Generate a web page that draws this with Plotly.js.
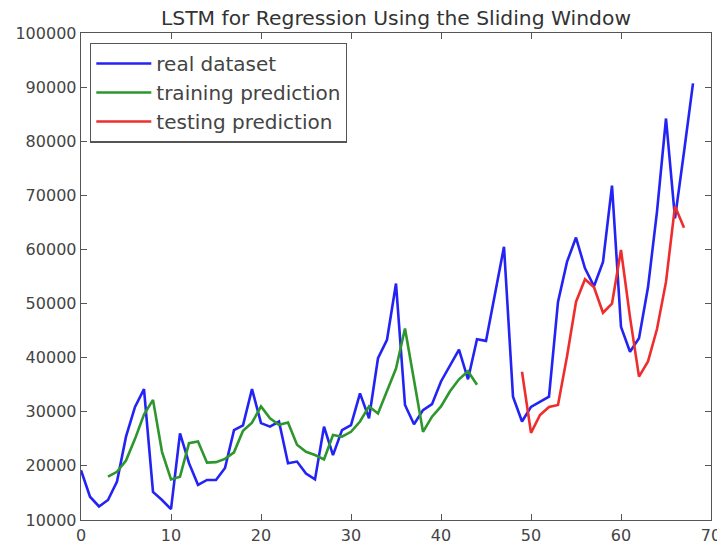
<!DOCTYPE html>
<html>
<head>
<meta charset="utf-8">
<script src="https://cdn.plot.ly/plotly-3.0.1.min.js"></script>
<style>html,body{margin:0;padding:0;background:#fff;}#chart{width:717px;height:544px;}</style>
</head>
<body>
<div id="chart"></div>
<script>
// Data
const realStart = 0;
const realValues = [19200,14300,12500,13700,17100,25400,30900,34200,15200,13700,
  12000,26000,20500,16500,17400,17400,19600,26600,27500,34200,
  27900,27250,28200,20500,20800,18600,17500,27250,22000,26600,
  27550,33400,28800,39900,43300,53700,31250,27700,30300,31400,
  35600,38600,41500,36000,43400,43100,51900,60500,32800,28200,
  30900,31900,32800,50300,57700,62200,56500,53200,57700,71800,
  45700,41100,43600,53000,67000,84200,65750,78000,90700];

const trainStart = 3;
const trainValues = [18000,18900,21000,25000,29500,32200,22600,17500,18000,24200,
  24500,20600,20700,21300,22500,26500,28000,31000,28800,27600,
  28000,23900,22600,22000,21200,25700,25400,26300,28200,31000,
  29700,33700,38000,45400,35900,26300,29100,31000,33800,36000,
  37500,35000];

const testStart = 49;
const testValues = [37400,26100,29400,30900,31250,40200,50300,54500,53000,48300,
  50000,59900,47500,36500,39300,45300,54000,68000,64000];

const seriesNames = ["real dataset","training prediction","testing prediction"];
const xTicks = [0,10,20,30,40,50,60,70];
const yTicks = [10000,20000,30000,40000,50000,60000,70000,80000,90000,100000];
const titleText = "LSTM for Regression Using the Sliding Window";

function idx(start, arr){ return arr.map((_, i) => start + i); }

const traces = [
  {x: idx(realStart, realValues), y: realValues, name: seriesNames[0], mode: "lines",
   line: {color: "rgb(35,35,245)", width: 2.6}, legendgroup: "a"},
  {x: idx(trainStart, trainValues), y: trainValues, name: seriesNames[1], mode: "lines",
   line: {color: "rgb(45,150,45)", width: 2.6}, legendgroup: "b"},
  {x: idx(testStart, testValues), y: testValues, name: seriesNames[2], mode: "lines",
   line: {color: "rgb(240,45,45)", width: 2.6}, legendgroup: "c"}
];

const axisCommon = {
  showline: true, linecolor: "#555", linewidth: 1.3, mirror: "ticks",
  ticks: "inside", ticklen: 6, tickcolor: "#555", tickwidth: 1,
  showgrid: false, zeroline: false, ticklabeloverflow: "allow",
  tickfont: {family: "DejaVu Sans", size: 16, color: "#444"}
};

const layout = {
  width: 717, height: 544,
  margin: {l: 81, r: 6, t: 33, b: 24, pad: 0},
  paper_bgcolor: "#fff", plot_bgcolor: "#fff",
  title: {text: titleText, font: {family: "DejaVu Sans", size: 20.3, color: "#333"},
          xref: "paper", x: 0.5, xanchor: "center", yref: "container", y: 1 - 18/544, yanchor: "middle"},
  xaxis: Object.assign({}, axisCommon, {range: [0, 70], tickvals: xTicks, ticktext: xTicks.map(String)}),
  yaxis: Object.assign({}, axisCommon, {range: [10000, 100000], tickvals: yTicks, ticktext: yTicks.map(String)}),
  showlegend: true,
  legend: {x: 0.0143, y: 0.98, xanchor: "left", yanchor: "top",
           bgcolor: "#fff", bordercolor: "#555", borderwidth: 1.3,
           font: {family: "DejaVu Sans", size: 20, color: "#444"},
           itemwidth: 55, tracegroupgap: 3, traceorder: "normal"}
};

Plotly.newPlot("chart", traces, layout, {displayModeBar: false, staticPlot: true});
</script>
</body>
</html>
